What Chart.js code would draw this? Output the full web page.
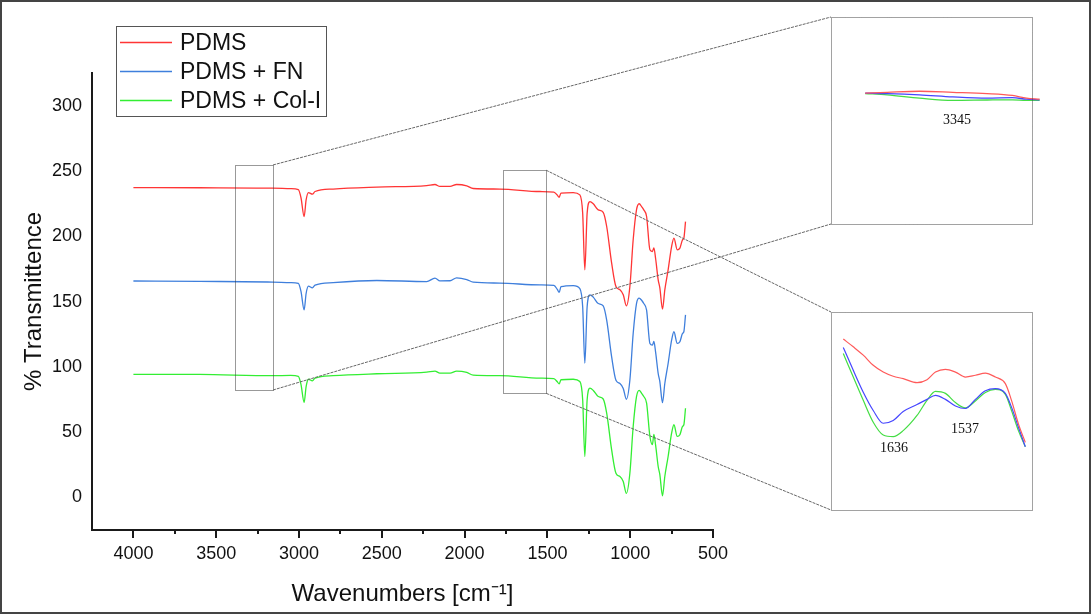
<!DOCTYPE html>
<html>
<head>
<meta charset="utf-8">
<script src="https://cdn.jsdelivr.net/npm/chart.js@4.4.1/dist/chart.umd.min.js"></script>
<style>
  html, body { margin: 0; padding: 0; background: #fff; }
  #wrap { position: relative; width: 1091px; height: 614px; }
  canvas { position: absolute; }
</style>
</head>
<body>
<div id="wrap">
  <canvas id="main" width="1091" height="614" style="left:0;top:0"></canvas>
  <canvas id="insetHigh" width="220" height="208" style="left:831px;top:17px"></canvas>
  <canvas id="insetLow" width="202" height="199" style="left:831px;top:312px"></canvas>
</div>
<script>
// spectra
const wavenumbers = [4000, 3600, 3160, 3050, 3004, 2988, 2969, 2957, 2943, 2919, 2903, 2794, 2530, 2229, 2179, 2149, 2088, 2048, 1987, 1948, 1787, 1545, 1461, 1440, 1429, 1418, 1344, 1304, 1287, 1274, 1260, 1243, 1223, 1193, 1163, 1142, 1112, 1086, 1062, 1042, 1023, 1002, 982, 962, 946, 930, 918, 901, 881, 866, 857, 846, 831, 821, 805, 791, 771, 750, 736, 716, 700, 684, 676, 666];
const pdms = [237.6, 237.5, 237.2, 236.8, 236.0, 229.8, 215.4, 228.2, 233.8, 232.6, 234.6, 236.5, 238.0, 239.2, 240.0, 238.5, 238.5, 240.0, 239.0, 236.9, 236.5, 234.6, 234.2, 231.8, 230.2, 233.4, 233.8, 232.0, 218.0, 174.4, 218.0, 226.9, 225.2, 220.5, 218.6, 207.7, 179.5, 161.5, 159.0, 155.2, 146.7, 161.5, 197.5, 220.5, 225.2, 222.8, 220.5, 215.4, 189.8, 188.5, 191.3, 182.5, 166.7, 160.5, 144.2, 159.0, 174.4, 192.3, 198.8, 189.8, 191.1, 197.5, 198.8, 211.5];
const pdmsFn = [165.8, 165.5, 165.0, 164.6, 164.0, 157.8, 143.6, 156.2, 161.8, 160.6, 162.6, 164.6, 166.2, 165.4, 168.0, 165.9, 166.0, 168.2, 166.9, 164.9, 164.2, 162.8, 162.4, 159.3, 157.0, 161.4, 162.3, 160.0, 146.0, 102.6, 146.0, 155.2, 153.4, 148.5, 146.6, 135.7, 107.5, 89.5, 87.0, 83.2, 74.9, 89.5, 125.5, 148.5, 152.6, 150.8, 148.5, 143.4, 117.8, 116.5, 119.3, 110.5, 94.7, 88.5, 72.3, 87.0, 102.4, 120.3, 126.8, 117.8, 119.1, 125.5, 126.8, 139.8];
const pdmsCol = [94.1, 94.0, 93.0, 93.2, 92.5, 86.3, 72.5, 84.7, 90.3, 89.1, 91.1, 93.0, 94.5, 95.7, 96.5, 95.0, 95.0, 96.5, 95.5, 93.4, 93.0, 91.1, 90.7, 88.3, 86.7, 89.9, 90.3, 88.5, 74.5, 30.9, 74.5, 83.4, 81.7, 77.0, 75.1, 64.2, 36.0, 18.0, 15.5, 11.7, 2.6, 18.0, 54.0, 77.0, 81.7, 79.3, 77.0, 71.9, 46.3, 40.0, 47.8, 39.0, 23.2, 17.0, 0.7, 15.5, 30.9, 48.8, 55.3, 46.3, 47.6, 54.0, 55.3, 68.0];

const seriesNames = ["PDMS", "PDMS + FN", "PDMS + Col-I"];

const xTicks = [4000, 3500, 3000, 2500, 2000, 1500, 1000, 500];
const xMinorTicks = [3750, 3250, 2750, 2250, 1750, 1250, 750];
const yTicks = [0, 50, 100, 150, 200, 250, 300];

// zoomed regions marked on the main plot (wavenumber range, % range)
const zoomRanges = [
    { from: 3386, to: 3157, low: 82, high: 255 },
    { from: 1766, to: 1508, low: 79.5, high: 251 }
];

// inset 1 : 3345 region
const insetHighWn = [3335, 3310, 3273, 3235, 3196, 3167, 3151, 3136];
const insetHighPdms = [63.4, 63.8, 64.3, 63.8, 63.2, 62.3, 61.0, 60.5];
const insetHighFn = [63.4, 63.2, 62.6, 61.6, 61.0, 61.2, 60.5, 60.2];
const insetHighCol = [63.2, 62.6, 61.0, 59.9, 60.1, 60.2, 59.9, 59.9];

// inset 2 : amide region
const insetLowWn = [1693, 1680, 1667, 1654, 1641, 1628, 1615, 1597, 1584, 1573, 1560, 1547, 1534, 1521, 1508, 1495, 1482, 1474, 1465, 1456];
const insetLowPdms = [86.4, 82.5, 78.3, 73.2, 69.8, 67.7, 66.5, 64.5, 66.0, 69.8, 71.2, 69.8, 67.3, 68.2, 69.3, 67.3, 64.0, 55.6, 43.8, 34.5];
const insetLowFn = [82.2, 70.7, 59.7, 50.5, 44.1, 45.5, 50.0, 53.5, 56.1, 58.1, 56.1, 52.8, 51.5, 56.1, 60.4, 61.5, 59.1, 52.2, 42.1, 32.3];
const insetLowCol = [79.1, 67.3, 55.6, 44.6, 38.2, 37.4, 40.4, 48.0, 55.6, 60.1, 59.1, 54.5, 51.8, 55.3, 59.6, 61.1, 58.6, 50.5, 40.4, 32.3];

// layout (pixels)
const insetFrames = [
    { x: 831, y: 17, w: 201, h: 207 },
    { x: 831, y: 312, w: 201, h: 198 }
];
const mainColors = ["#ff3535", "#3f7fdc", "#33ee33"];
const insetColors = ["#ff5a5a", "#4646ff", "#44dd44"];

function toPoints(xs, ys) {
    return xs.map((x, i) => ({ x: x, y: ys[i] }));
}

function lineSet(label, xs, ys, color, width) {
    return {
        label: label,
        data: toPoints(xs, ys),
        borderColor: color,
        borderWidth: width,
        pointRadius: 0,
        fill: false,
        cubicInterpolationMode: 'monotone'
    };
}

const decorations = {
    id: 'decorations',
    afterDatasetsDraw(chart) {
        const ctx = chart.ctx;
        const xs = chart.scales.x;
        const ys = chart.scales.y;
        ctx.save();

        // dotted region boxes + connectors to the insets
        zoomRanges.forEach((r, i) => {
            let x1 = xs.getPixelForValue(r.from);
            let x2 = xs.getPixelForValue(r.to);
            let y1 = ys.getPixelForValue(r.high);
            let y2 = ys.getPixelForValue(r.low);
            ctx.strokeStyle = '#333';
            ctx.lineWidth = 1;
            ctx.setLineDash([1, 1]);
            ctx.strokeRect(Math.round(x1) + 0.5, Math.round(y1) + 0.5, Math.round(x2 - x1), Math.round(y2 - y1));

            let f = insetFrames[i];
            ctx.strokeStyle = '#666';
            ctx.setLineDash([3, 1]);
            ctx.beginPath();
            ctx.moveTo(x2, y1);
            ctx.lineTo(f.x, f.y);
            ctx.moveTo(x2, y2);
            ctx.lineTo(f.x, f.y + f.h);
            ctx.stroke();
        });
        ctx.setLineDash([]);

        // x tick marks (major + minor, pointing down)
        let base = chart.chartArea.bottom;
        ctx.strokeStyle = '#1a1a1a';
        ctx.lineWidth = 2;
        ctx.beginPath();
        xTicks.forEach(v => {
            let px = Math.round(xs.getPixelForValue(v));
            ctx.moveTo(px, base);
            ctx.lineTo(px, base + 8);
        });
        xMinorTicks.forEach(v => {
            let px = Math.round(xs.getPixelForValue(v));
            ctx.moveTo(px, base);
            ctx.lineTo(px, base + 4);
        });
        ctx.stroke();

        // legend box
        ctx.fillStyle = '#fff';
        ctx.fillRect(117, 27, 210, 90);
        ctx.strokeStyle = '#555';
        ctx.lineWidth = 1;
        ctx.strokeRect(116.5, 26.5, 210, 90);
        ctx.font = '23px "Liberation Sans", Arial, sans-serif';
        ctx.textBaseline = 'middle';
        ctx.textAlign = 'left';
        chart.data.datasets.forEach((ds, i) => {
            let ly = 42.5 + i * 29;
            ctx.strokeStyle = ds.borderColor;
            ctx.lineWidth = 1.3;
            ctx.beginPath();
            ctx.moveTo(120, ly);
            ctx.lineTo(172, ly);
            ctx.stroke();
            ctx.fillStyle = '#111';
            ctx.fillText(ds.label, 180, ly + 1);
        });

        // figure frame
        ctx.strokeStyle = '#444';
        ctx.lineWidth = 2;
        ctx.strokeRect(1, 1, 1089, 612);
        ctx.restore();
    }
};

const mainChart = new Chart(document.getElementById('main'), {
    type: 'line',
    data: {
        datasets: [
            lineSet(seriesNames[0], wavenumbers, pdms, mainColors[0], 1.3),
            lineSet(seriesNames[1], wavenumbers, pdmsFn, mainColors[1], 1.3),
            lineSet(seriesNames[2], wavenumbers, pdmsCol, mainColors[2], 1.3)
        ]
    },
    options: {
        responsive: false,
        animation: false,
        layout: { padding: { top: 73, right: 378, left: 0, bottom: 0 } },
        scales: {
            x: {
                type: 'linear',
                reverse: true,
                min: 500,
                max: 4250,
                afterBuildTicks: s => { s.ticks = xTicks.map(v => ({ value: v })); },
                afterFit: s => { s.height = 84; },
                grid: { display: false, drawTicks: false },
                border: { display: true, color: '#1a1a1a', width: 2 },
                ticks: {
                    padding: 13,
                    maxRotation: 0,
                    color: '#111',
                    font: { family: '"Liberation Sans", Arial, sans-serif', size: 18 },
                    callback: v => String(v)
                },
                title: {
                    display: true,
                    text: 'Wavenumbers [cm\u207B\u00B9]',
                    color: '#111',
                    font: { family: '"Liberation Sans", Arial, sans-serif', size: 24 },
                    padding: { top: 0, bottom: 5 }
                }
            },
            y: {
                min: -25.6,
                max: 325.7,
                afterBuildTicks: s => { s.ticks = yTicks.map(v => ({ value: v })); },
                afterFit: s => { s.width = 92; },
                grid: { display: false, drawTicks: false },
                border: { display: true, color: '#1a1a1a', width: 2 },
                ticks: {
                    padding: 10,
                    color: '#111',
                    font: { family: '"Liberation Sans", Arial, sans-serif', size: 18 }
                },
                title: {
                    display: true,
                    text: '% Transmittence',
                    color: '#111',
                    font: { family: '"Liberation Sans", Arial, sans-serif', size: 24 },
                    padding: { top: 20, bottom: 0 }
                }
            }
        },
        plugins: {
            legend: { display: false },
            tooltip: { enabled: false }
        }
    },
    plugins: [decorations]
});

// inset frame + peak labels
function insetDecor(frameW, frameH, labels) {
    return {
        id: 'insetDecor',
        afterDatasetsDraw(chart) {
            const ctx = chart.ctx;
            ctx.save();
            ctx.strokeStyle = '#444';
            ctx.lineWidth = 1;
            ctx.setLineDash([1, 1]);
            ctx.strokeRect(0.5, 0.5, frameW, frameH);
            ctx.setLineDash([]);
            ctx.fillStyle = '#111';
            ctx.font = '14px "Liberation Serif", "Times New Roman", serif';
            ctx.textAlign = 'center';
            ctx.textBaseline = 'middle';
            labels.forEach(l => ctx.fillText(l.text, l.x, l.y));
            ctx.restore();
        }
    };
}

function insetOptions(xmin, xmax) {
    return {
        responsive: false,
        animation: false,
        layout: { padding: 0 },
        scales: {
            x: { type: 'linear', reverse: true, min: xmin, max: xmax, display: false },
            y: { min: 0, max: 100, display: false }
        },
        plugins: { legend: { display: false }, tooltip: { enabled: false } }
    };
}

new Chart(document.getElementById('insetHigh'), {
    type: 'line',
    data: {
        datasets: [
            lineSet(seriesNames[0], insetHighWn, insetHighPdms, insetColors[0], 1.3),
            lineSet(seriesNames[1], insetHighWn, insetHighFn, insetColors[1], 1.3),
            lineSet(seriesNames[2], insetHighWn, insetHighCol, insetColors[2], 1.3)
        ]
    },
    options: insetOptions(3123, 3374),
    plugins: [insetDecor(201, 207, [{ text: '3345', x: 126, y: 103 }])]
});

new Chart(document.getElementById('insetLow'), {
    type: 'line',
    data: {
        datasets: [
            lineSet(seriesNames[0], insetLowWn, insetLowPdms, insetColors[0], 1.2),
            lineSet(seriesNames[1], insetLowWn, insetLowFn, insetColors[1], 1.2),
            lineSet(seriesNames[2], insetLowWn, insetLowCol, insetColors[2], 1.2)
        ]
    },
    options: insetOptions(1446, 1709),
    plugins: [insetDecor(201, 198, [{ text: '1636', x: 63, y: 136 }, { text: '1537', x: 134, y: 117 }])]
});
</script>
</body>
</html>
